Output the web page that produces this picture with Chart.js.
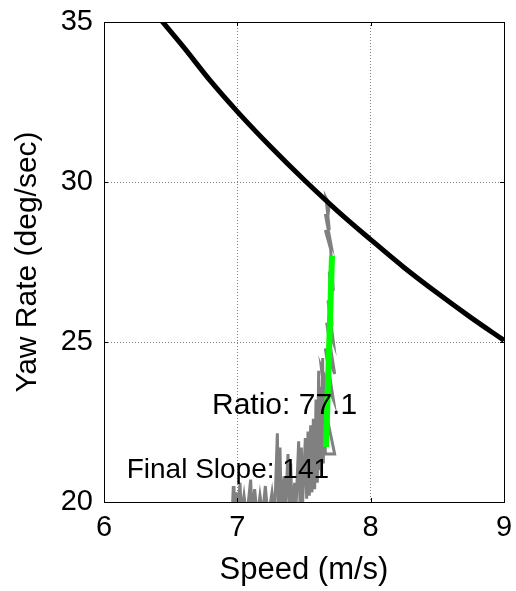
<!DOCTYPE html>
<html>
<head>
<meta charset="utf-8">
<script src="https://cdn.jsdelivr.net/npm/chart.js@4/dist/chart.umd.min.js"></script>
<style>
  html, body { margin: 0; padding: 0; background: #fff; }
</style>
</head>
<body>
<canvas id="yawChart" width="516" height="591"></canvas>
<script>
// axis ticks
const speedTicks = [6, 7, 8, 9];
const yawTicks = [20, 25, 30, 35];

// black limit curve
const limitSpeed = [6.42, 6.6, 6.8, 7.0, 7.25, 7.5, 7.75, 8.0, 8.25, 8.5, 8.75, 9.0];
const limitYaw = [35.1, 34.2, 33.15, 32.2, 31.1, 30.07, 29.1, 28.2, 27.33, 26.53, 25.77, 25.05];

// gray measured trace (speed, yaw rate)
const traceSpeed = [6.96, 6.97, 6.975, 6.99, 7.00, 7.02, 7.03, 7.05, 7.07, 7.10, 7.11, 7.13, 7.15, 7.17, 7.19, 7.21,
  7.23, 7.26, 7.28, 7.30, 7.31, 7.32, 7.33, 7.35, 7.36, 7.38, 7.39, 7.40, 7.41, 7.43, 7.44, 7.46, 7.47, 7.48,
  7.49, 7.51, 7.52, 7.53, 7.54, 7.55, 7.56, 7.57, 7.58, 7.59, 7.60, 7.61, 7.62, 7.62, 7.63, 7.64, 7.645, 7.65,
  7.66, 7.73, 7.68, 7.63, 7.72, 7.66, 7.73, 7.67, 7.72, 7.68, 7.71, 7.69, 7.72, 7.70, 7.66, 7.70, 7.66, 7.69,
  7.665, 7.69, 7.675];
const traceYaw = [19.5, 20.5, 19.6, 20.3, 19.5, 20.6, 19.6, 20.2, 19.5, 20.7, 19.6, 20.4, 19.5, 20.2, 19.6, 20.5,
  19.5, 20.3, 19.6, 22.15, 19.7, 21.7, 19.6, 20.8, 19.7, 21.5, 19.8, 21.2, 19.7, 20.6, 19.8, 21.9, 19.9, 21.7,
  20.0, 22.0, 20.1, 22.2, 20.2, 22.4, 20.3, 22.6, 20.4, 23.2, 20.6, 24.1, 21.0, 23.6, 20.8, 24.5, 21.2, 23.8,
  21.5, 21.5, 22.5, 24.2, 23.2, 24.8, 24.0, 25.6, 25.0, 26.3, 25.5, 27.2, 26.6, 27.9, 28.5, 28.1, 29.0, 28.5,
  29.5, 29.3, 28.8];

// green fitted segment
const fitSpeed = [7.665, 7.71];
const fitYaw = [21.72, 27.7];

// text labels: [text, speed, yaw, font size]
const notes = [
  ["Ratio: 77.1", 6.81, 23.0, 30],
  ["Final Slope: 141", 6.17, 21.0, 28]
];

const FONT = "'Liberation Sans', Arial, Helvetica, sans-serif";

function toPoints(xs, ys) {
  return xs.map((x, i) => ({ x, y: ys[i] }));
}

// frame box + inward tick marks + text notes
const matlabFrame = {
  id: "matlabFrame",
  afterDatasetsDraw(chart) {
    const { ctx, scales } = chart;
    ctx.save();
    ctx.fillStyle = "#000";
    ctx.textAlign = "left";
    ctx.textBaseline = "middle";
    notes.forEach(([txt, sx, sy, size]) => {
      ctx.font = `${size}px ${FONT}`;
      ctx.fillText(txt, scales.x.getPixelForValue(sx), scales.y.getPixelForValue(sy));
    });
    ctx.restore();
  },
  afterDraw(chart) {
    const { ctx, chartArea: a, scales } = chart;
    ctx.save();
    ctx.strokeStyle = "#000";
    ctx.lineWidth = 1;
    ctx.strokeRect(Math.round(a.left) + 0.5, Math.round(a.top) + 0.5,
      Math.round(a.right - a.left), Math.round(a.bottom - a.top));
    ctx.beginPath();
    speedTicks.forEach((v) => {
      const px = Math.round(scales.x.getPixelForValue(v)) + 0.5;
      ctx.moveTo(px, a.bottom); ctx.lineTo(px, a.bottom - 4);
      ctx.moveTo(px, a.top); ctx.lineTo(px, a.top + 4);
    });
    yawTicks.forEach((v) => {
      const py = Math.round(scales.y.getPixelForValue(v)) + 0.5;
      ctx.moveTo(a.left, py); ctx.lineTo(a.left + 4, py);
      ctx.moveTo(a.right, py); ctx.lineTo(a.right - 4, py);
    });
    ctx.stroke();
    ctx.restore();
  }
};

new Chart(document.getElementById("yawChart"), {
  type: "scatter",
  data: {
    datasets: [
      {
        label: "limit",
        data: toPoints(limitSpeed, limitYaw),
        showLine: true,
        borderColor: "#000000",
        borderWidth: 5,
        pointRadius: 0,
        cubicInterpolationMode: "monotone",
        order: 1
      },
      {
        label: "fit",
        data: toPoints(fitSpeed, fitYaw),
        showLine: true,
        borderColor: "#00ff00",
        borderWidth: 6,
        pointRadius: 0,
        borderCapStyle: "butt",
        order: 2
      },
      {
        label: "trace",
        data: toPoints(traceSpeed, traceYaw),
        showLine: true,
        borderColor: "#808080",
        borderWidth: 3,
        pointRadius: 0,
        order: 3
      }
    ]
  },
  options: {
    responsive: false,
    animation: false,
    events: [],
    layout: { padding: { top: 22, right: 12, left: 0, bottom: 0 } },
    plugins: {
      legend: { display: false },
      tooltip: { enabled: false }
    },
    scales: {
      x: {
        type: "linear",
        min: 6,
        max: 9,
        afterBuildTicks: (s) => { s.ticks = speedTicks.map((v) => ({ value: v })); },
        afterFit: (s) => { s.height = 89; s.paddingLeft = 0; s.paddingRight = 0; },
        grid: { color: "#808080", lineWidth: 1, drawTicks: false },
        border: { display: true, color: "#000", dash: [1, 2] },
        ticks: { color: "#000", padding: 9, maxRotation: 0, font: { family: FONT, size: 29 } },
        title: {
          display: true,
          text: "Speed (m/s)",
          color: "#000",
          font: { family: FONT, size: 31 },
          padding: { top: 0, bottom: 2 }
        }
      },
      y: {
        type: "linear",
        min: 20,
        max: 35,
        afterBuildTicks: (s) => { s.ticks = yawTicks.map((v) => ({ value: v })); },
        afterFit: (s) => { s.width = 104; s.paddingTop = 0; s.paddingBottom = 0; },
        grid: { color: "#808080", lineWidth: 1, drawTicks: false },
        border: { display: true, color: "#000", dash: [1, 2] },
        ticks: { color: "#000", padding: 11, font: { family: FONT, size: 29 } },
        title: {
          display: true,
          text: "Yaw Rate (deg/sec)",
          color: "#000",
          font: { family: FONT, size: 30 },
          padding: { top: 10, bottom: 0 }
        }
      }
    }
  },
  plugins: [matlabFrame]
});
</script>
</body>
</html>
